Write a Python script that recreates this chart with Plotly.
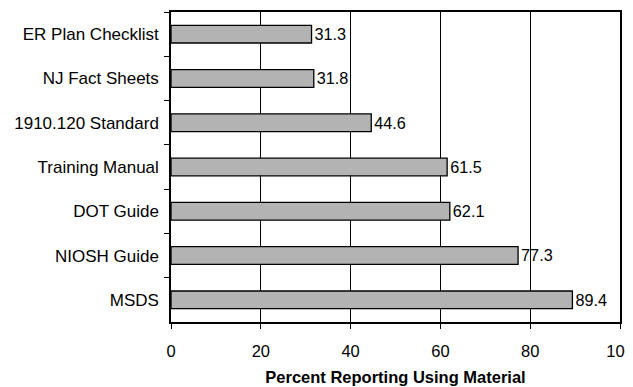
import plotly.graph_objects as go

categories = ["ER Plan Checklist", "NJ Fact Sheets", "1910.120 Standard", "Training Manual",
              "DOT Guide", "NIOSH Guide", "MSDS"]
values = [31.3, 31.8, 44.6, 61.5, 62.1, 77.3, 89.4]
x_ticks = [0, 20, 40, 60, 80, 100]

font = "Liberation Sans, Arial, sans-serif"
fs = 16.5

fig = go.Figure(go.Bar(
    x=values, y=categories, orientation="h",
    marker=dict(color="#b3b3b3", line=dict(color="black", width=1.3)),
    width=0.4,
    text=[f"{v:.1f}" for v in values], textposition="outside",
    textfont=dict(family=font, size=fs, color="black"),
    cliponaxis=False,
))

fig.update_layout(
    width=633, height=387,
    margin=dict(l=163, r=21, t=4, b=73),
    plot_bgcolor="white", paper_bgcolor="white",
    showlegend=False,
    font=dict(family=font, size=fs, color="black"),
    xaxis=dict(range=[0, 100], tickvals=x_ticks, showgrid=True, gridcolor="black", gridwidth=1,
               showline=True, linecolor="black", linewidth=2, mirror=True,
               ticks="outside", ticklen=5, tickcolor="black", zeroline=False, automargin=False,
               ticklabelstandoff=8, ticklabeloverflow="allow",
               title=dict(text="<b>Percent Reporting Using Material</b>", font=dict(size=fs), standoff=13),
               tickfont=dict(size=fs)),
    yaxis=dict(autorange="reversed", showline=True, linecolor="black", linewidth=1.5, mirror=True,
               ticks="outside", ticklen=5, tickcolor="black", tickson="boundaries", automargin=False,
               showgrid=False, ticklabelstandoff=7, tickfont=dict(size=17)),
)

fig.write_html("out.html")
